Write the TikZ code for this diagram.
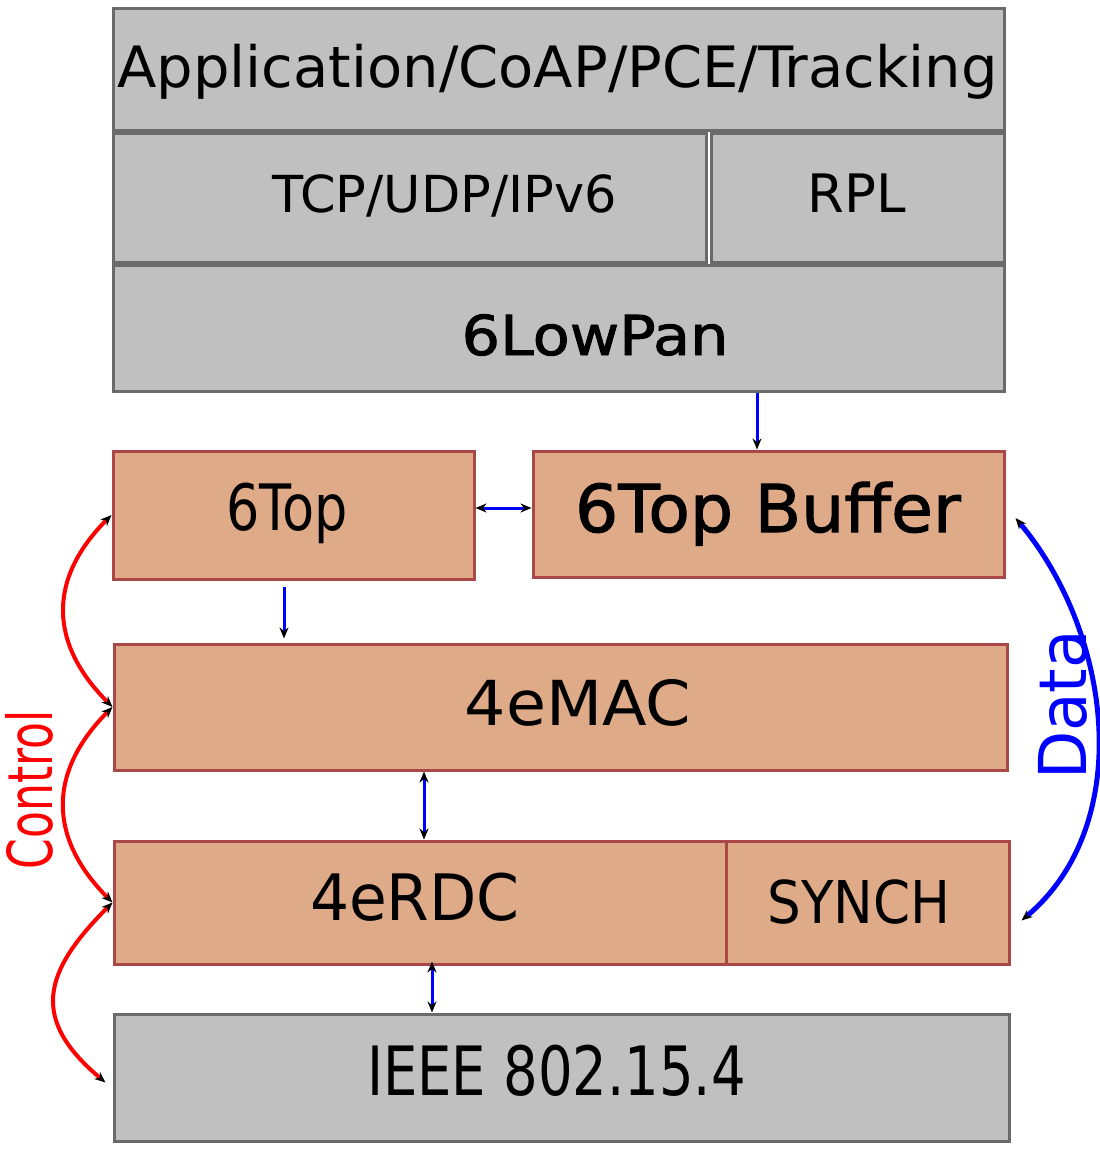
\documentclass[tikz,border=0pt]{standalone}
\usepackage{fontspec}
\setmainfont{DejaVu Sans}
\newfontfamily\semib[FakeBold=1.5]{DejaVu Sans}
\usepackage{graphicx}
\usetikzlibrary{arrows.meta,calc}
\definecolor{boxgray}{RGB}{192,192,192}
\definecolor{edgegray}{RGB}{106,106,106}
\definecolor{peach}{RGB}{223,170,136}
\definecolor{edgered}{RGB}{170,72,72}
\newcommand{\tx}[3]{\fontsize{#1}{#1}\selectfont\scalebox{#2}[1]{#3}}
\begin{document}
\begin{tikzpicture}[x=1pt,y=1pt,
  graybox/.style={draw=edgegray,fill=boxgray,line width=3pt,inner sep=0pt},
  peachbox/.style={draw=edgered,fill=peach,line width=3pt,inner sep=0pt},
  lbl/.style={anchor=base,inner sep=0pt,text=black},
  ktip/.tip={Stealth[color=black,length=11pt,width=9pt]},
  flow/.style={blue,line width=3pt,-ktip},
  flowb/.style={blue,line width=3pt,ktip-ktip},
  ctrl/.style={red,line width=4pt,ktip-ktip},
  datac/.style={blue,line width=5pt,ktip-ktip}]
\useasboundingbox (0,0) rectangle (1100,-1149);

% boxes
\node[graybox,minimum width=891pt,minimum height=122pt] (app) at (558.5,-69) {};
\node[graybox,minimum width=593pt,minimum height=129pt] (tcp) at (409.5,-197.5) {};
\node[graybox,minimum width=293pt,minimum height=129pt] (rpl) at (857.5,-197.5) {};
\node[graybox,minimum width=891pt,minimum height=126pt] (lowpan) at (558.5,-328) {};
\node[peachbox,minimum width=361pt,minimum height=128pt] (top6) at (293.5,-515) {};
\node[peachbox,minimum width=471pt,minimum height=126pt] (buf) at (768.5,-514) {};
\node[peachbox,minimum width=893pt,minimum height=126pt] (mac) at (560.5,-707) {};
\node[peachbox,minimum width=612pt,minimum height=123pt] (rdc) at (420,-902.5) {};
\node[peachbox,minimum width=283pt,minimum height=123pt] (synch) at (867.5,-902.5) {};
\node[graybox,minimum width=895pt,minimum height=127pt] (ieee) at (561.5,-1077.5) {};

% labels
\node[lbl] (appT) at (557.5,-87) {\tx{57}{1.01}{Application/CoAP/PCE/Tracking}};
\node[lbl] (tcpT) at (444.5,-212) {\tx{51}{1}{TCP/UDP/IPv6}};
\node[lbl] (rplT) at (856.5,-212) {\tx{53}{1}{RPL}};
\node[lbl] (lowpanT) at (595,-355) {\tx{55}{1.1}{\semib 6LowPan}};
\node[lbl] (top6T) at (287,-530) {\tx{64}{0.82}{6Top}};
\node[lbl] (bufT) at (768,-532) {\tx{66}{1.03}{\semib 6Top Buffer}};
\node[lbl] (macT) at (578,-725) {\tx{62}{1.05}{4eMAC}};
\node[lbl] (rdcT) at (415,-920) {\tx{64}{0.96}{4eRDC}};
\node[lbl] (synchT) at (859,-923) {\tx{59}{0.9}{SYNCH}};
\node[lbl] (ieeeT) at (556.5,-1095) {\tx{68}{0.8}{IEEE 802.15.4}};
\node[lbl,rotate=90,text=red] (ctrlT) at (52,-790) {\tx{62}{0.71}{Control}};
\node[lbl,rotate=90,text=blue] (dataT) at (1086,-705) {\tx{66}{0.95}{Data}};

% straight connectors
\draw[flow] let \p1=(buf.north), \p2=(lowpan.south) in (\x1-11.5pt,\y2) -- (\x1-11.5pt,\y1);
\draw[flowb] let \p1=(top6.east), \p2=(buf.west) in (\x1,\y1+7pt) -- (\x2,\y1+7pt);
\draw[flow] let \p1=(top6.south), \p2=(mac.north) in (\x1-9.5pt,\y1-6pt) -- (\x1-9.5pt,\y2+4pt);
\draw[flowb] let \p1=(rdc.north), \p2=(mac.south) in (\x1+4pt,\y2) -- (\x1+4pt,\y1);
\draw[flowb] let \p1=(rdc.south), \p2=(ieee.north) in (\x1+12pt,\y1+4pt) -- (\x1+12pt,\y2);

% control curves
\draw[ctrl] (top6.west) to[out=225,in=135,looseness=1.2] (mac.west);
\draw[ctrl] (mac.west) to[out=225,in=135,looseness=1.2] (rdc.west);
\draw[ctrl] (rdc.west) to[out=225,in=140,looseness=1.4] ($(ieee.west)+(-7,-5)$);

% data curve
\draw[datac] ($(buf.east)+(10,-4)$) to[out=-50,in=40,looseness=0.95] ($(synch.east)+(11,-18)$);
\end{tikzpicture}
\end{document}
